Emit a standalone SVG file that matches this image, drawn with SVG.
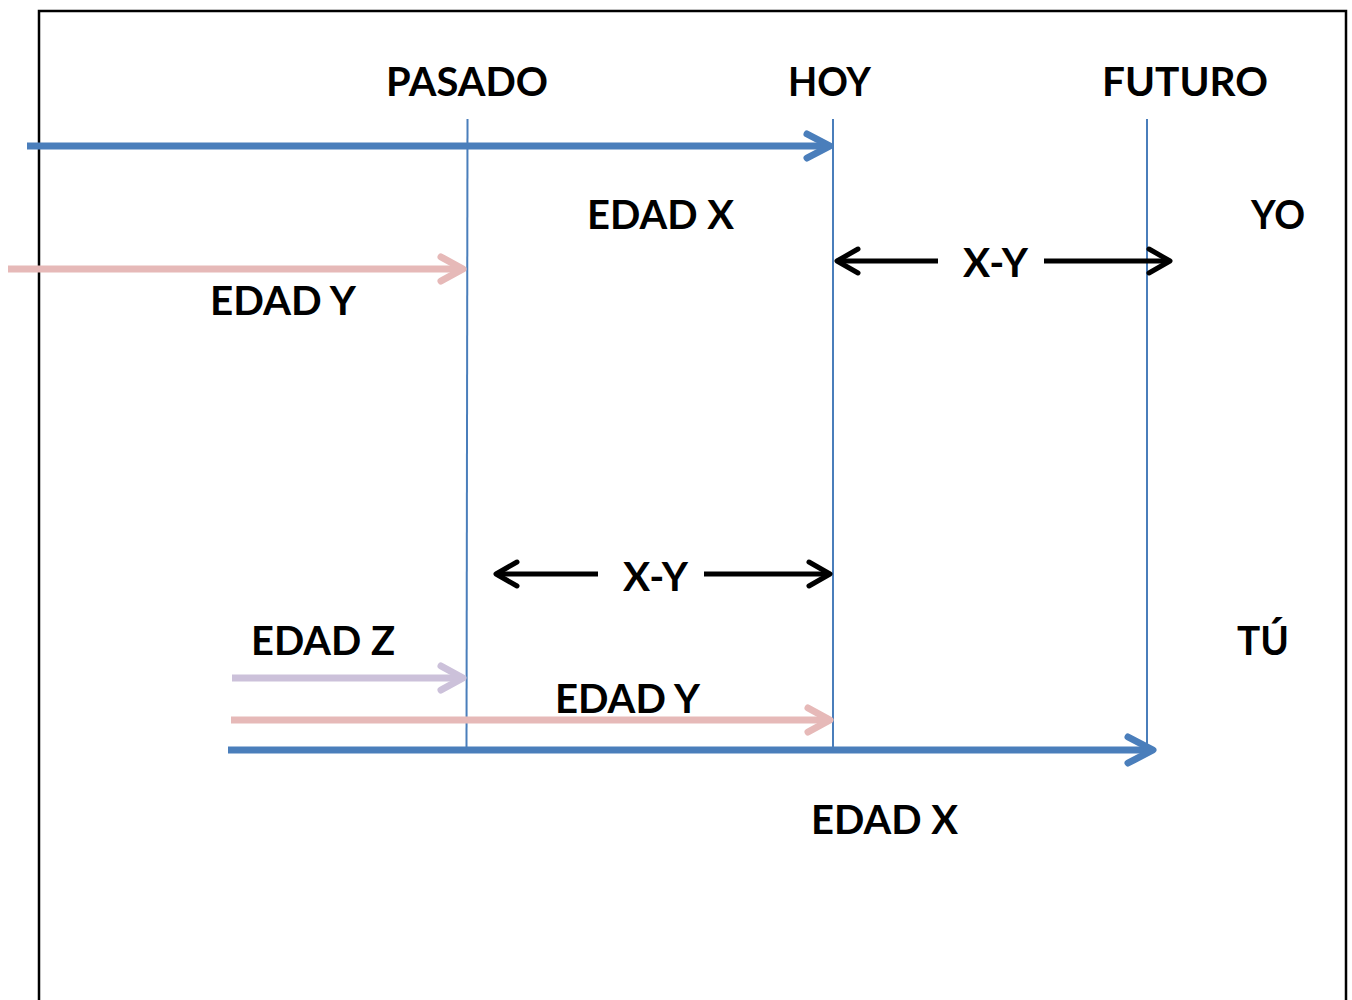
<svg xmlns="http://www.w3.org/2000/svg" width="1352" height="1000" viewBox="0 0 1352 1000">
<style>
.t{font-family:Lato,"Open Sans","Liberation Sans",sans-serif;font-weight:bold;font-size:41px;fill:#000}
.v{stroke:#4A7EBB;stroke-width:2;fill:none}
.ar{fill:none;stroke-linecap:round;stroke-linejoin:round}
</style>
<rect x="0" y="0" width="1352" height="1000" fill="#fff"/>
<path d="M39,1002 V11 H1346 V1002" fill="none" stroke="#000" stroke-width="2.5"/>
<g id="guides">
<line class="v" x1="467.5" y1="119" x2="466.5" y2="750"/>
<line class="v" x1="833" y1="119" x2="833" y2="750"/>
<line class="v" x1="1147" y1="119" x2="1147" y2="748"/>
</g>
<g id="connectors" class="ar">
<g stroke="#4A7EBB" stroke-width="7">
<line x1="27" y1="146" x2="828" y2="146" stroke-linecap="butt"/>
<polyline points="807,134 830,146 807,158"/>
<line x1="228" y1="750" x2="1152" y2="750" stroke-linecap="butt"/>
<polyline points="1128,737 1153,750 1128,763"/>
</g>
<g stroke="#E6B9B8" stroke-width="7">
<line x1="8" y1="269" x2="462" y2="269" stroke-linecap="butt"/>
<polyline points="441,257 463,269 441,281"/>
<line x1="231" y1="720" x2="828" y2="720" stroke-linecap="butt"/>
<polyline points="808,708 830,720 808,732"/>
</g>
<g stroke="#CCC1DA" stroke-width="7">
<line x1="232" y1="678" x2="461" y2="678" stroke-linecap="butt"/>
<polyline points="441,666 463,678 441,690"/>
</g>
<g stroke="#000" stroke-width="5">
<line x1="837" y1="261" x2="938" y2="261" stroke-linecap="butt"/>
<polyline points="858,249 837,261 858,273"/>
<line x1="1044" y1="261" x2="1168" y2="261" stroke-linecap="butt"/>
<polyline points="1149,249 1170,261 1149,273"/>
<line x1="496" y1="574" x2="598" y2="574" stroke-linecap="butt"/>
<polyline points="517,562 496,574 517,586"/>
<line x1="704" y1="574" x2="828" y2="574" stroke-linecap="butt"/>
<polyline points="809,562 830,574 809,586"/>
</g>
</g>
<g id="labels">
<text class="t" x="386" y="96" textLength="162" lengthAdjust="spacingAndGlyphs">PASADO</text>
<text class="t" x="788" y="96" textLength="83" lengthAdjust="spacingAndGlyphs">HOY</text>
<text class="t" x="1102" y="96" textLength="166" lengthAdjust="spacingAndGlyphs">FUTURO</text>
<text class="t" x="587" y="229" textLength="147" lengthAdjust="spacingAndGlyphs">EDAD X</text>
<text class="t" x="1251" y="229" textLength="54" lengthAdjust="spacingAndGlyphs">YO</text>
<text class="t" x="963" y="277" textLength="65" lengthAdjust="spacingAndGlyphs">X-Y</text>
<text class="t" x="210" y="315" textLength="146" lengthAdjust="spacingAndGlyphs">EDAD Y</text>
<text class="t" x="623" y="591" textLength="65" lengthAdjust="spacingAndGlyphs">X-Y</text>
<text class="t" x="251" y="655" textLength="144" lengthAdjust="spacingAndGlyphs">EDAD Z</text>
<text class="t" x="1237" y="655" textLength="52" lengthAdjust="spacingAndGlyphs">TÚ</text>
<text class="t" x="555" y="713" textLength="145" lengthAdjust="spacingAndGlyphs">EDAD Y</text>
<text class="t" x="811" y="834" textLength="147" lengthAdjust="spacingAndGlyphs">EDAD X</text>
</g>
</svg>
